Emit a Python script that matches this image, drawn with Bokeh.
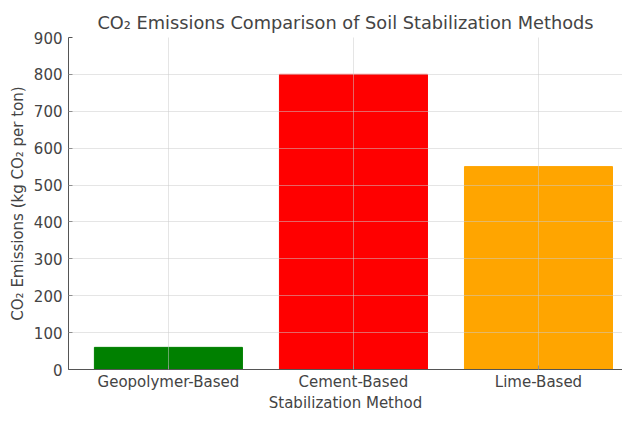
from bokeh.plotting import figure
from bokeh.models import ColumnDataSource, FixedTicker
from bokeh.embed import file_html
from bokeh.resources import INLINE

categories = ["Geopolymer-Based", "Cement-Based", "Lime-Based"]
emissions = [60, 800, 550]
colors = ["#008000", "#ff0000", "#ffa500"]
y_ticks = [0, 100, 200, 300, 400, 500, 600, 700, 800, 900]

positions = list(range(len(categories)))
src = ColumnDataSource(dict(x=positions, top=emissions, color=colors, name=categories))

p = figure(width=622, height=414, output_backend="svg", toolbar_location=None,
           x_range=(-0.54, 2.454), y_range=(0, 900),
           min_border_left=68, min_border_right=0, min_border_top=37, min_border_bottom=10)

p.vbar(x="x", top="top", width=0.8, color="color", source=src)

p.title.text = "CO\u2082 Emissions Comparison of Soil Stabilization Methods"
p.title.align = "center"
p.title.offset = 7
p.title.text_font = "DejaVu Sans"
p.title.text_font_size = "17.75px"
p.title.text_font_style = "normal"
p.title.text_color = "#444444"

p.xaxis.ticker = FixedTicker(ticks=positions)
p.xaxis.major_label_overrides = {i: c for i, c in enumerate(categories)}
p.yaxis.ticker = FixedTicker(ticks=y_ticks)
p.xaxis.axis_label = "Stabilization Method"
p.yaxis.axis_label = "CO\u2082 Emissions (kg CO\u2082 per ton)"

for ax in (p.xaxis[0], p.yaxis[0]):
    ax.axis_label_text_font = "DejaVu Sans"
    ax.axis_label_text_font_style = "normal"
    ax.axis_label_text_color = "#444444"
    ax.axis_label_text_font_size = "15px"
    ax.major_label_text_font = "DejaVu Sans"
    ax.major_label_text_font_size = "15px"
    ax.major_label_text_color = "#444444"
    ax.axis_line_color = "#555555"
    ax.major_tick_line_color = "#555555"
    ax.major_tick_in = 4
    ax.major_tick_out = 0
    ax.minor_tick_line_color = None

p.xaxis.axis_label_standoff = 0
p.yaxis.axis_label_standoff = 4
p.xaxis.major_label_standoff = 3
p.yaxis.major_label_standoff = 6

p.outline_line_color = None
p.xgrid.grid_line_color = "#cccccc"
p.ygrid.grid_line_color = "#cccccc"
p.xgrid.grid_line_alpha = 0.5
p.ygrid.grid_line_alpha = 0.5
p.xgrid.level = "overlay"
p.ygrid.level = "overlay"

open("out.html", "w").write(file_html(p, INLINE))
